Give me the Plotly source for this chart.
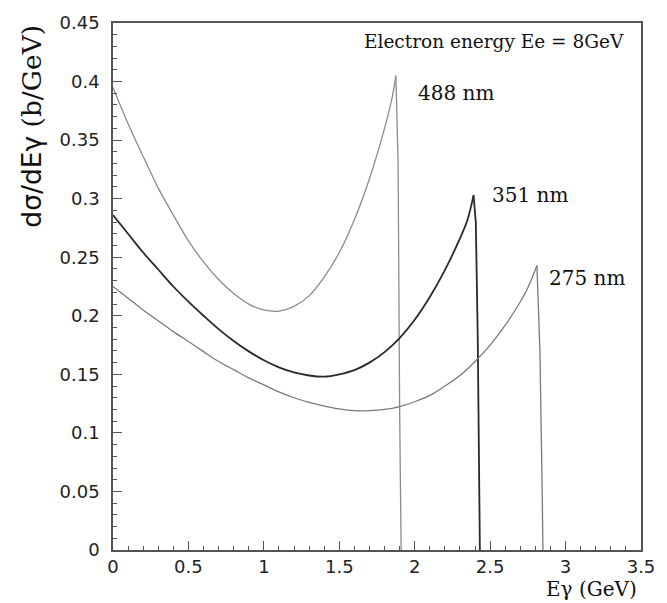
import plotly.graph_objects as go

# ---- data ----
e_488 = [0, 0.1, 0.2, 0.3, 0.4, 0.5, 0.6, 0.7, 0.8, 0.9, 1.0, 1.1, 1.2, 1.3, 1.4, 1.5,
         1.6, 1.7, 1.8, 1.85, 1.875, 1.89, 1.9, 1.91]
s_488 = [0.395, 0.364, 0.336, 0.309, 0.286, 0.264, 0.246, 0.231, 0.219, 0.210, 0.205,
         0.204, 0.208, 0.217, 0.233, 0.254, 0.282, 0.317, 0.360, 0.386, 0.405, 0.33, 0.12, 0.0]

e_351 = [0, 0.1, 0.2, 0.3, 0.4, 0.5, 0.6, 0.7, 0.8, 0.9, 1.0, 1.1, 1.2, 1.3, 1.4, 1.5,
         1.6, 1.7, 1.8, 1.9, 2.0, 2.1, 2.2, 2.3, 2.35, 2.39, 2.405, 2.418, 2.427, 2.432]
s_351 = [0.286, 0.270, 0.254, 0.2395, 0.225, 0.212, 0.200, 0.1886, 0.1785, 0.1696, 0.162,
         0.156, 0.1517, 0.149, 0.148, 0.150, 0.1536, 0.160, 0.169, 0.181, 0.1966, 0.216,
         0.239, 0.266, 0.282, 0.303, 0.28, 0.18, 0.05, 0.0]

e_275 = [0, 0.1, 0.2, 0.3, 0.4, 0.5, 0.6, 0.7, 0.8, 0.9, 1.0, 1.1, 1.2, 1.3, 1.4, 1.5,
         1.6, 1.7, 1.8, 1.9, 2.0, 2.1, 2.2, 2.3, 2.4, 2.5, 2.6, 2.7, 2.75, 2.81, 2.83,
         2.845, 2.85]
s_275 = [0.225, 0.215, 0.205, 0.1957, 0.1865, 0.178, 0.1694, 0.161, 0.154, 0.147, 0.141,
         0.135, 0.130, 0.126, 0.123, 0.1205, 0.119, 0.119, 0.120, 0.1225, 0.1266, 0.132,
         0.140, 0.149, 0.161, 0.175, 0.192, 0.212, 0.224, 0.243, 0.17, 0.05, 0.0]

x_ticks = [0, 0.5, 1, 1.5, 2, 2.5, 3, 3.5]
x_tick_labels = ["0", "0.5", "1", "1.5", "2", "2.5", "3", "3.5"]
y_ticks = [0, 0.05, 0.1, 0.15, 0.2, 0.25, 0.3, 0.35, 0.4, 0.45]
y_tick_labels = ["0", "0.05", "0.1", "0.15", "0.2", "0.25", "0.3", "0.35", "0.4", "0.45"]

labels = ["488 nm", "351 nm", "275 nm"]
label_pos = [(2.01, 0.390), (2.50, 0.303), (2.88, 0.232)]

SERIF = "DejaVu Serif"
SANS = "DejaVu Sans"

series = [(e_488, s_488, "#8c8c8c", 1.3),
          (e_351, s_351, "#2a2a2a", 1.8),
          (e_275, s_275, "#7a7a7a", 1.3)]

fig = go.Figure()
for ex, sy, col, w in series:
    k = sy.index(max(sy))  # peak (Compton edge)
    # smooth spectrum up to the edge
    fig.add_trace(go.Scatter(x=ex[:k + 1], y=sy[:k + 1], mode="lines",
                             line=dict(color=col, width=w, shape="spline", smoothing=1.0),
                             showlegend=False, hoverinfo="skip"))
    # sharp drop after the edge
    fig.add_trace(go.Scatter(x=ex[k:], y=sy[k:], mode="lines",
                             line=dict(color=col, width=w),
                             showlegend=False, hoverinfo="skip"))

for txt, (lx, ly) in zip(labels, label_pos):
    fig.add_annotation(x=lx, y=ly, xref="x", yref="y", text=txt, showarrow=False,
                       xanchor="left", yanchor="middle",
                       font=dict(family=SERIF, size=20, color="#111"))

fig.add_annotation(x=3.40, y=0.434, xref="x", yref="y",
                   text="Electron energy Ee = 8GeV", showarrow=False,
                   xanchor="right", yanchor="middle",
                   font=dict(family=SERIF, size=18.5, color="#111"))

# axis titles
fig.add_annotation(x=0.995, y=-0.0996, xref="paper", yref="paper",
                   text="Eγ (GeV)", showarrow=False, xanchor="right", yanchor="bottom",
                   borderpad=0,
                   font=dict(family=SERIF, size=20, color="#111"))
fig.add_annotation(x=-0.155, y=1.0, xref="paper", yref="paper",
                   text="dσ/dEγ <span style='font-family:DejaVu Serif'>(b/GeV)</span>",
                   showarrow=False, textangle=-90, xanchor="center", yanchor="top",
                   font=dict(family=SANS, size=26.5, color="#111"))

axis_common = dict(showline=True, mirror=True, linecolor="#555", linewidth=1.5,
                   ticks="inside", ticklen=9, tickcolor="#555", tickwidth=1,
                   showgrid=False, zeroline=False,
                   tickfont=dict(family=SANS, size=18, color="#222"))

fig.update_xaxes(range=[0, 3.5], tickmode="array", tickvals=x_ticks, ticktext=x_tick_labels,
                 minor=dict(ticks="inside", ticklen=4, dtick=0.1, tick0=0, tickcolor="#555",
                            showgrid=False),
                 ticklabelstandoff=0,
                 **axis_common)
fig.update_yaxes(range=[0, 0.45], tickmode="array", tickvals=y_ticks, ticktext=y_tick_labels,
                 minor=dict(ticks="inside", ticklen=4, dtick=0.01, tick0=0, tickcolor="#555",
                            showgrid=False),
                 ticklabelstandoff=8,
                 **axis_common)

fig.update_layout(width=667, height=603, margin=dict(l=113, r=20, t=18, b=53),
                  plot_bgcolor="white", paper_bgcolor="white")

fig.write_html("out.html")
